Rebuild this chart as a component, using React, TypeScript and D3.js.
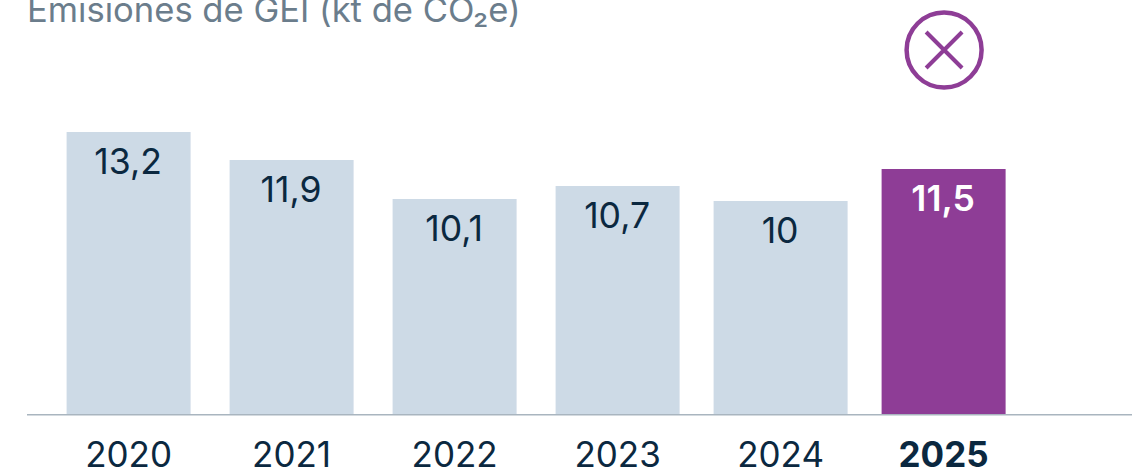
import * as d3 from "d3";
import { useEffect, useRef } from "react";

const years = ["2020", "2021", "2022", "2023", "2024", "2025"];
const emissions = [13.2, 11.9, 10.1, 10.7, 10, 11.5];
const valueLabels = ["13,2", "11,9", "10,1", "10,7", "10", "11,5"];
const highlightYear = "2025";
const wideYear = "2024";
const title = "Emisiones de GEI (kt de CO₂e)";

const WIDTH = 1132;
const HEIGHT = 475;
const FONT = "Inter, 'Noto Sans', sans-serif";
const DARK = "#0b2840";
const PURPLE = "#8e3d96";
const LIGHT = "#cddae6";

const App = () => {
  const chartRef = useRef<SVGSVGElement | null>(null);

  useEffect(() => {
    const svg = d3.select(chartRef.current);
    svg.selectAll("*").remove();

    const baseline = 414;

    // scales
    const scaleX = d3.scaleBand().domain(years).range([47.1, 1025.1]);
    const scaleY = d3.scaleLinear().domain([0, 13.2]).range([baseline, 132]);

    const barWidth = (year: string) => (year === wideYear ? 134 : 124);
    const center = (year: string) => scaleX(year)! + scaleX.bandwidth() / 2;
    const barTop = (i: number) => Math.ceil(scaleY(emissions[i]));

    svg.append("text")
      .attr("x", 27)
      .attr("y", 22)
      .attr("font-family", FONT)
      .attr("font-size", 34.6)
      .attr("fill", "#6b7d8c")
      .text(title);

    // bars
    svg.selectAll(".bar")
      .data(years)
      .enter()
      .append("rect")
      .attr("class", "bar")
      .attr("x", d => center(d) - barWidth(d) / 2)
      .attr("y", (d, i) => barTop(i))
      .attr("width", d => barWidth(d))
      .attr("height", (d, i) => baseline - barTop(i))
      .attr("fill", d => (d === highlightYear ? PURPLE : LIGHT));

    // value labels
    svg.selectAll(".value")
      .data(years)
      .enter()
      .append("text")
      .attr("class", "value")
      .attr("x", d => center(d) - 0.5)
      .attr("y", (d, i) => barTop(i) + 42)
      .attr("text-anchor", "middle")
      .attr("font-family", FONT)
      .attr("font-size", 35.6)
      .attr("font-weight", d => (d === highlightYear ? 600 : 400))
      .attr("fill", d => (d === highlightYear ? "#ffffff" : DARK))
      .text((d, i) => valueLabels[i]);

    // axis
    const xAxis = d3.axisBottom(scaleX).tickSize(0).tickPadding(28);
    const axis = svg.append("g")
      .attr("transform", `translate(0, ${baseline})`)
      .call(xAxis);
    axis.select(".domain")
      .attr("d", `M27,0.75H${WIDTH}`)
      .attr("stroke", "#a9b5bf")
      .attr("stroke-width", 1.5);
    axis.selectAll<SVGTextElement, string>(".tick text")
      .attr("font-family", FONT)
      .attr("font-size", 35)
      .attr("font-weight", d => (d === highlightYear ? 700 : 400))
      .attr("fill", DARK);

    // icon above the highlighted bar
    const icon = svg.append("g")
      .attr("transform", `translate(${center(highlightYear) + 0.5}, 50)`)
      .attr("fill", "none")
      .attr("stroke", PURPLE);
    icon.append("circle")
      .attr("r", 37.5)
      .attr("stroke-width", 4.5);
    icon.append("path")
      .attr("d", "M-18,-18L18,18M18,-18L-18,18")
      .attr("stroke-width", 4);
  }, []);

  return (
    <svg
      ref={chartRef}
      width={WIDTH}
      height={HEIGHT}
      style={{ position: "absolute", left: 0, top: 0, background: "#fff" }}
    ></svg>
  );
};

export default App;
